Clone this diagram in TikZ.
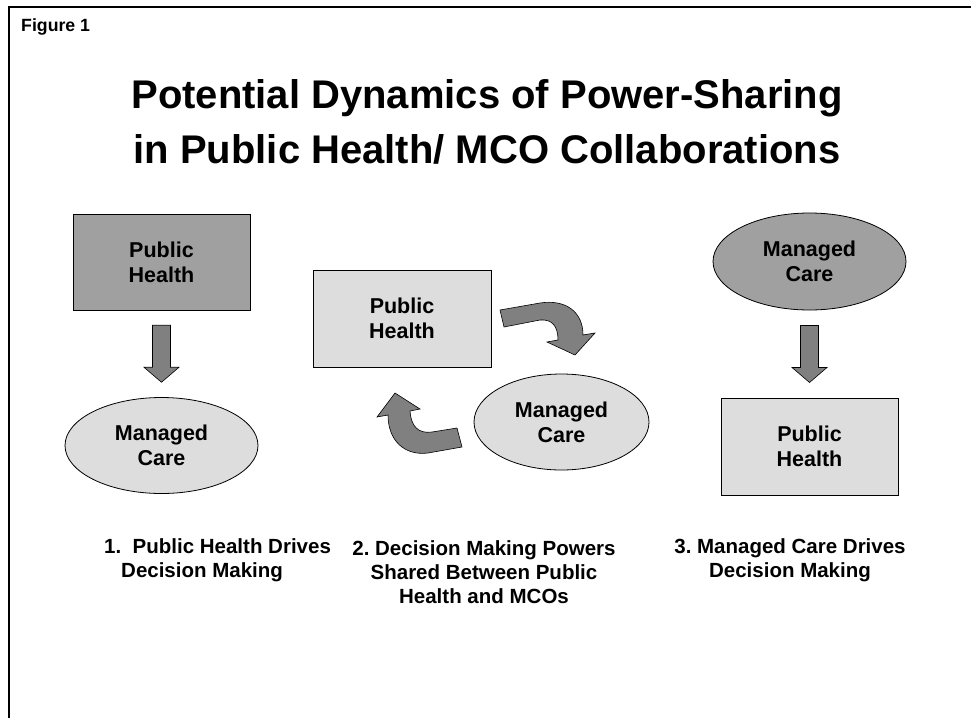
\documentclass[tikz,border=0pt]{standalone}
\usepackage{fontspec}
\setmainfont{Liberation Sans}
\usetikzlibrary{shapes.geometric,calc}
\frenchspacing

\definecolor{darkfill}{HTML}{A0A0A0}
\definecolor{lightfill}{HTML}{DDDDDD}
\definecolor{arrowfill}{HTML}{808080}

\tikzset{
  boxtext/.style={font=\bfseries\fontsize{21.5}{25}\selectfont, align=center},
  phbox/.style={boxtext, draw=black, line width=0.8pt, rectangle, minimum width=177pt, minimum height=96pt, inner sep=0pt},
  mcell/.style={boxtext, draw=black, line width=0.8pt, ellipse, minimum width=193pt, minimum height=96pt, inner sep=0pt},
  caption/.style={font=\bfseries\fontsize{20.5}{24}\selectfont, inner sep=0pt},
  blockarrow/.style={draw=black, line width=0.6pt, fill=arrowfill, line join=miter},
  downarrow/.pic={
    \draw[blockarrow] (-9,-28.5) -- (9,-28.5) -- (9,13.5) -- (17.5,13.5)
      -- (0,28.5) -- (-17.5,13.5) -- (-9,13.5) -- cycle;
  }
}

\begin{document}
\begin{tikzpicture}[x=1pt, y=-1pt]
\useasboundingbox (0,0) rectangle (971,718);

% outer frame: left and top rules
\draw[line width=2pt] (9,718) -- (9,7) -- (971,7);

\node[font=\bfseries\fontsize{17.7}{20}\selectfont, anchor=base west, inner sep=0pt] (fig) at (21,31) {Figure 1};

\node[font=\bfseries\fontsize{40}{55}\selectfont, align=center, inner sep=0pt] (title) at (487,122)
  {Potential Dynamics of Power-Sharing\\in Public Health/ MCO Collaborations};

% 1. public health drives
\node[phbox, fill=darkfill] (ph1) at (161.5,262) {Public\\Health};
\node[mcell, fill=lightfill] (mc1) at (161.5,445.5) {Managed\\Care};
\pic at ($(ph1.south)!0.5!(mc1.north)$) {downarrow};

% 2. shared powers
\node[phbox, fill=lightfill, minimum width=178pt, minimum height=97pt] (ph2) at (402,318.5) {Public\\Health};
\node[mcell, fill=lightfill, minimum width=175pt] (mc2) at (561.5,422) {Managed\\Care};
% bent arrow from public health towards managed care
\draw[blockarrow] (500,310) -- (540,303) .. controls (566,299) and (583,312) .. (583,335)
  -- (595,333) -- (575,355) -- (547,342) -- (558,340)
  .. controls (558,326) and (552,319) .. (540,320) -- (504,327) -- cycle;
% bent arrow from managed care back to public health
\draw[blockarrow] (462,447) -- (428,453) .. controls (404,456) and (388,440) .. (388,415)
  -- (377,417) -- (395,393) -- (420,409) -- (410,411)
  .. controls (411,426) and (418,434) .. (432,432) -- (457,428) -- cycle;

% 3. managed care drives
\node[mcell, fill=darkfill, minimum height=97pt] (mc3) at (809.5,261.5) {Managed\\Care};
\node[phbox, fill=lightfill, minimum height=97pt] (ph3) at (809.5,446.5) {Public\\Health};
\pic at ($(mc3.south)!0.5!(ph3.north)$) {downarrow};

% captions
\node[caption, align=left, anchor=west] (cap1) at (104,560)
  {1.\ \ Public Health Drives\\\hspace*{17pt}Decision Making};
\node[caption, align=center] (cap2) at (484,572)
  {2. Decision Making Powers\\Shared Between Public\\Health and MCOs};
\node[caption, align=center] (cap3) at (790,560)
  {3. Managed Care Drives\\Decision Making};
\end{tikzpicture}
\end{document}
